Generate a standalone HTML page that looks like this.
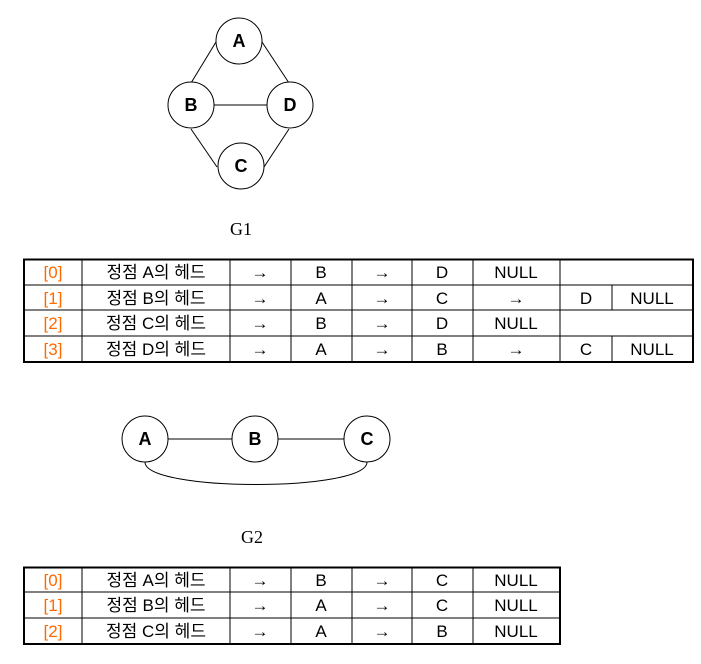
<!DOCTYPE html>
<html><head><meta charset="utf-8"><style>
body{margin:0;background:#fff;width:701px;height:664px;overflow:hidden}
svg{display:block}
.t{font-family:"Liberation Sans","Noto Sans CJK KR",sans-serif;font-size:17px;fill:#000}
.o{fill:#ff6a00}
.n{font-family:"Liberation Sans",sans-serif;font-weight:bold;font-size:18px}
.s{font-family:"Liberation Serif",serif;font-size:18px}
</style></head><body>
<svg width="701" height="664" viewBox="0 0 701 664">
<g stroke="#000" stroke-width="1" fill="none">
<line x1="216" y1="42" x2="191" y2="83"/>
<line x1="262" y1="42" x2="289" y2="83"/>
<line x1="191" y1="129" x2="217" y2="167"/>
<line x1="289" y1="129" x2="264" y2="167"/>
<line x1="214" y1="105" x2="267" y2="105"/>
<g fill="#fff">
<circle cx="239" cy="41" r="23"/><circle cx="191" cy="105" r="23"/>
<circle cx="290" cy="105" r="23"/><circle cx="241" cy="166" r="23"/>
</g>
<line x1="168" y1="439" x2="232" y2="439"/>
<line x1="278" y1="439" x2="344" y2="439"/>
<path d="M145 462 C145 492 367 492 367 462"/>
<g fill="#fff">
<circle cx="145" cy="439" r="23"/><circle cx="255" cy="439" r="23"/><circle cx="367" cy="439" r="23"/>
</g>
</g>
<g class="n" text-anchor="middle">
<text x="239" y="47">A</text><text x="191" y="111">B</text><text x="290" y="111">D</text><text x="241" y="172">C</text>
<text x="145" y="445">A</text><text x="255" y="445">B</text><text x="367" y="445">C</text>
</g>
<text class="s" x="241" y="235" text-anchor="middle">G1</text>
<text class="s" x="252" y="543" text-anchor="middle">G2</text>
<g stroke="#000" fill="none">
<rect x="24" y="259.5" width="669" height="102.5" stroke-width="2"/>
<line x1="24" y1="285" x2="693" y2="285"/><line x1="24" y1="310" x2="693" y2="310"/><line x1="24" y1="336" x2="693" y2="336"/>
<line x1="82" y1="259" x2="82" y2="362"/><line x1="230" y1="259" x2="230" y2="362"/>
<line x1="291" y1="259" x2="291" y2="362"/><line x1="352" y1="259" x2="352" y2="362"/>
<line x1="412" y1="259" x2="412" y2="362"/><line x1="473" y1="259" x2="473" y2="362"/>
<line x1="560" y1="259" x2="560" y2="362"/>
<line x1="612" y1="285" x2="612" y2="310"/><line x1="612" y1="336" x2="612" y2="362"/>
<rect x="24" y="567.5" width="536" height="76.5" stroke-width="2"/>
<line x1="24" y1="592" x2="560" y2="592"/><line x1="24" y1="618" x2="560" y2="618"/>
<line x1="82" y1="567" x2="82" y2="644"/><line x1="230" y1="567" x2="230" y2="644"/>
<line x1="291" y1="567" x2="291" y2="644"/><line x1="352" y1="567" x2="352" y2="644"/>
<line x1="412" y1="567" x2="412" y2="644"/><line x1="473" y1="567" x2="473" y2="644"/>
</g>
<g class="t" text-anchor="middle">
<text class="t o" x="53" y="278">[0]</text><text x="156" y="278">정점 A의 헤드</text><text x="260" y="278">→</text><text x="321" y="278">B</text><text x="382" y="278">→</text><text x="442" y="278">D</text><text x="516" y="278">NULL</text>
<text class="t o" x="53" y="304">[1]</text><text x="156" y="304">정점 B의 헤드</text><text x="260" y="304">→</text><text x="321" y="304">A</text><text x="382" y="304">→</text><text x="442" y="304">C</text><text x="516" y="304">→</text><text x="586" y="304">D</text><text x="652" y="304">NULL</text>
<text class="t o" x="53" y="329">[2]</text><text x="156" y="329">정점 C의 헤드</text><text x="260" y="329">→</text><text x="321" y="329">B</text><text x="382" y="329">→</text><text x="442" y="329">D</text><text x="516" y="329">NULL</text>
<text class="t o" x="53" y="355">[3]</text><text x="156" y="355">정점 D의 헤드</text><text x="260" y="355">→</text><text x="321" y="355">A</text><text x="382" y="355">→</text><text x="442" y="355">B</text><text x="516" y="355">→</text><text x="586" y="355">C</text><text x="652" y="355">NULL</text>
<text class="t o" x="53" y="586">[0]</text><text x="156" y="586">정점 A의 헤드</text><text x="260" y="586">→</text><text x="321" y="586">B</text><text x="382" y="586">→</text><text x="442" y="586">C</text><text x="516" y="586">NULL</text>
<text class="t o" x="53" y="611">[1]</text><text x="156" y="611">정점 B의 헤드</text><text x="260" y="611">→</text><text x="321" y="611">A</text><text x="382" y="611">→</text><text x="442" y="611">C</text><text x="516" y="611">NULL</text>
<text class="t o" x="53" y="637">[2]</text><text x="156" y="637">정점 C의 헤드</text><text x="260" y="637">→</text><text x="321" y="637">A</text><text x="382" y="637">→</text><text x="442" y="637">B</text><text x="516" y="637">NULL</text>
</g>
</svg>
</body></html>
